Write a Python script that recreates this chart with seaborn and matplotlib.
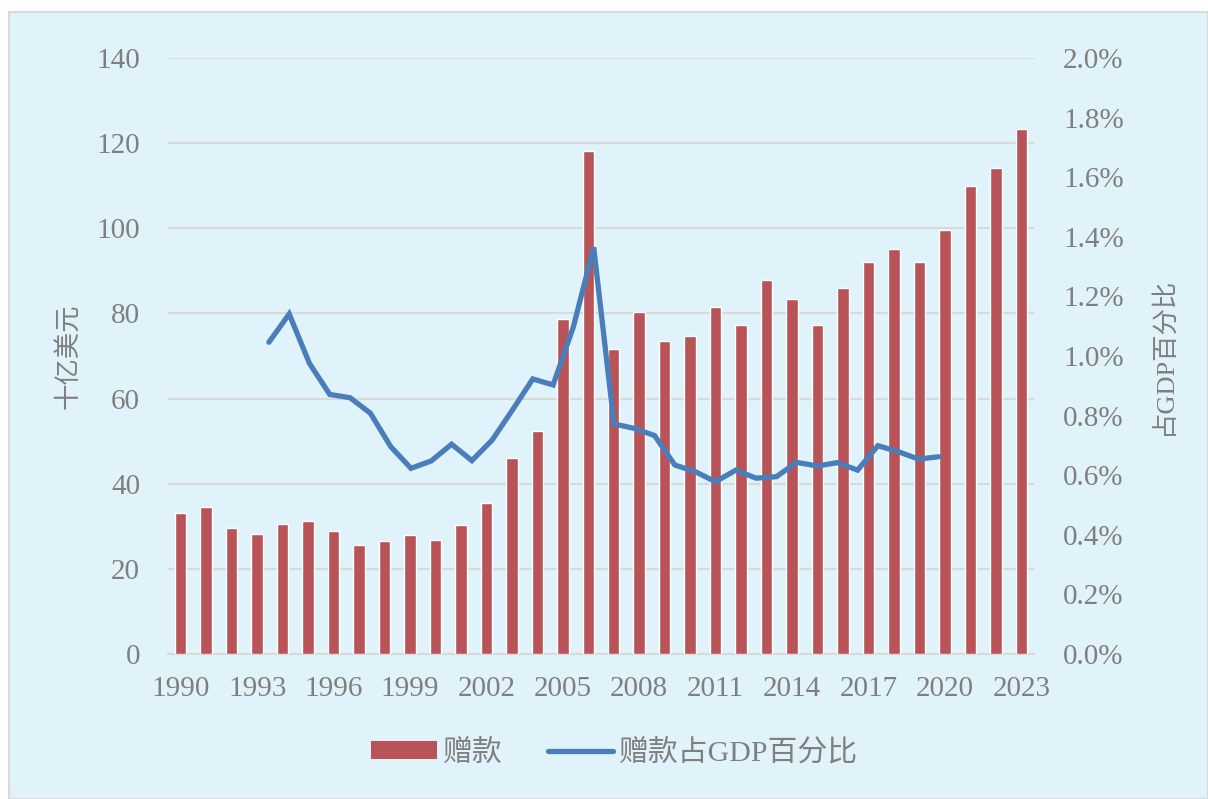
import numpy as np
import pandas as pd
import matplotlib
matplotlib.use('Agg')
import matplotlib.pyplot as plt
import seaborn as sns
from matplotlib.patches import Rectangle, Patch
from matplotlib.lines import Line2D
from matplotlib.ticker import FuncFormatter


# Grants (billion USD), 1990-2023
years = list(range(1990, 2024))
grants = [33.1, 34.5, 29.6, 28.3, 30.5, 31.3, 28.8, 25.7, 26.6, 28.0,
          26.8, 30.2, 35.5, 46.1, 52.3, 78.6, 118.2, 71.7, 80.3, 73.5,
          74.8, 81.5, 77.3, 87.8, 83.5, 77.2, 86.0, 92.0, 95.1, 92.0,
          99.6, 109.9, 114.2, 123.3]

# Grants as % of GDP (drawn on its own horizontal scale in the original)
pct_index = list(range(34))
pct_gdp = [1.046, 1.141, 0.975, 0.871, 0.860, 0.808, 0.696, 0.623, 0.648, 0.704,
           0.649, 0.718, 0.819, 0.923, 0.903, 1.098, 1.365, 0.772, 0.757, 0.733,
           0.634, 0.612, 0.578, 0.617, 0.590, 0.595, 0.643, 0.631, 0.642, 0.617,
           0.699, 0.679, 0.654, 0.662]

bar_label = '赠款'
line_label = '赠款占GDP百分比'

bar_color = '#B85357'
line_color = '#4A7EBB'
text_color = '#7F7F7F'
grid_color = '#D9D9D9'
bg_color = '#E1F3FA'

sns.set_style('white')
plt.rcParams['font.family'] = ['Liberation Serif', 'Noto Sans CJK SC', 'DejaVu Sans']

fig = plt.figure(figsize=(12.08, 7.99), dpi=100)
fig.patch.set_facecolor('white')
fig.patches.append(Rectangle((9 / 1208, 0), 1 - 9 / 1208, (799 - 12) / 799,
                             transform=fig.transFigure, facecolor=bg_color,
                             edgecolor=grid_color, linewidth=1.5, zorder=-10))

ax = fig.add_axes([168 / 1208, 145 / 799, 866 / 1208, 596 / 799])
ax.set_facecolor('none')

df = pd.DataFrame({'year': years, 'grants': grants})
sns.barplot(data=df, x='year', y='grants', color=bar_color, width=0.45,
            saturation=1, ax=ax, zorder=3)

ax.set_ylim(0, 140)
ax.set_yticks(np.arange(0, 141, 20))
ax.yaxis.grid(True, color=grid_color, linewidth=1.5, zorder=0)
ax.set_axisbelow(True)
ax.set_xticks(range(0, len(years), 3))
ax.set_xticklabels([str(y) for y in years[::3]])
ax.set_xlim(-0.5, len(years) - 0.5)
ax.set_xlabel('')
ax.set_ylabel('十亿美元', fontsize=19, color=text_color, labelpad=11)
ax.tick_params(axis='x', length=0, pad=16, labelsize=21, colors=text_color)
ax.tick_params(axis='y', length=0, pad=20, labelsize=21, colors=text_color)
for s in ['top', 'left', 'right']:
    ax.spines[s].set_visible(False)
ax.spines['bottom'].set_color(grid_color)
ax.spines['bottom'].set_linewidth(1.5)

# Right axis for the percentage line
ax2 = ax.twinx()
ax2.set_ylim(0, 2.0)
ax2.set_yticks(np.arange(0, 2.01, 0.2))
ax2.yaxis.set_major_formatter(FuncFormatter(lambda v, p: f'{v:.1f}%'))
ax2.set_ylabel('占GDP百分比', fontsize=19, color=text_color, labelpad=19,
               rotation=90)
ax2.tick_params(axis='y', length=0, pad=21, labelsize=21, colors=text_color)
for s in ax2.spines.values():
    s.set_visible(False)

ax3 = ax2.twiny()
sns.lineplot(x=pct_index, y=pct_gdp, color=line_color, linewidth=3.8, ax=ax3,
             solid_capstyle='round', solid_joinstyle='miter')
ax3.set_xlim(-4.97, 37.69)
ax3.set_ylim(0, 2.0)
ax3.set_xticks([])
ax3.set_xlabel('')
for s in ax3.spines.values():
    s.set_visible(False)

handles = [Patch(facecolor=bar_color, edgecolor='none'),
           Line2D([0], [0], color=line_color, linewidth=3.8, solid_capstyle='round')]
fig.legend(handles, [bar_label, line_label], loc='center',
           bbox_to_anchor=(0.509, 0.058), ncol=2, frameon=False,
           fontsize=21.5, labelcolor=text_color, handlelength=2.2,
           handleheight=0.55, columnspacing=1.5, handletextpad=0.2)

fig.savefig('out.png', dpi=100, facecolor=fig.get_facecolor())
